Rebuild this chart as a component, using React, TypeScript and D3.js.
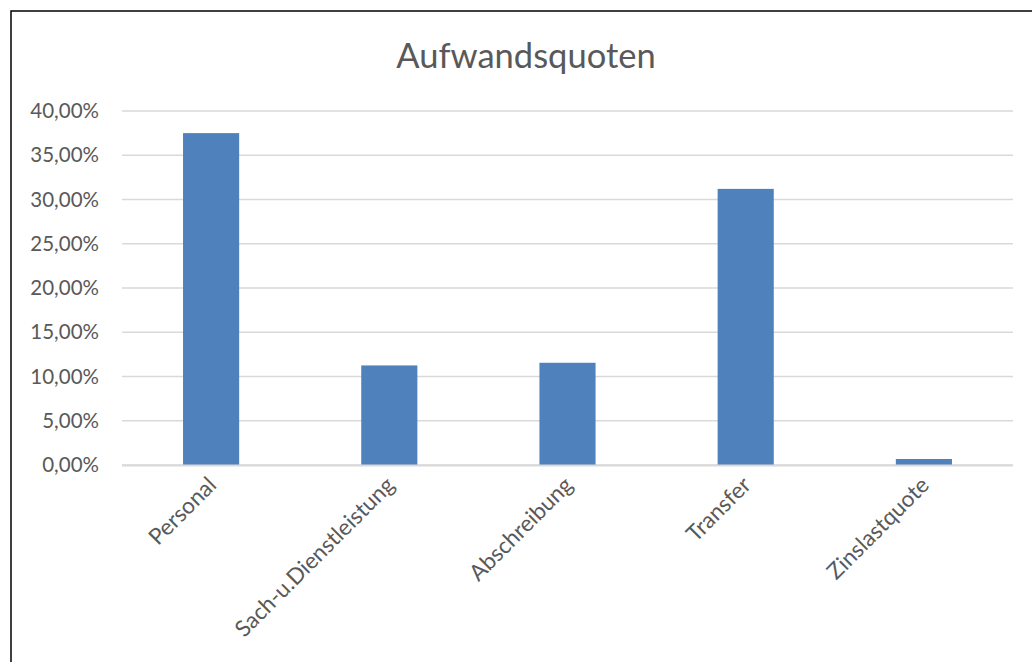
import React, {useEffect, useRef} from 'react'
import * as d3 from 'd3'

const categories = ['Personal', 'Sach-u.Dienstleistung', 'Abschreibung', 'Transfer', 'Zinslastquote']
const values = [0.375, 0.1125, 0.1155, 0.312, 0.0068]
const yTicks = [0, 0.05, 0.1, 0.15, 0.2, 0.25, 0.3, 0.35, 0.4]
const title = 'Aufwandsquoten'

const W = 1032
const H = 662
const FONT = 'Lato, "Open Sans", sans-serif'

export default function App() {
    const svgRef = useRef<SVGSVGElement>(null)

    useEffect(() => {
        const svg = d3.select(svgRef.current)
        svg.selectAll('*').remove()

        const plot = {left: 122, right: 1013, top: 111, bottom: 465}

        const x = d3.scaleBand<string>()
            .domain(categories)
            .range([plot.left, plot.right])
            .paddingInner(0.685)
            .paddingOuter(0.3425)
        const y = d3.scaleLinear().domain([0, 0.4]).range([plot.bottom, plot.top])

        svg.append('rect')
            .attr('x', 0).attr('y', 0).attr('width', W).attr('height', H)
            .attr('fill', '#fff')

        // outer chart frame (runs off the right and bottom edge)
        svg.append('rect')
            .attr('x', 11).attr('y', 11)
            .attr('width', W + 20).attr('height', H + 20)
            .attr('fill', 'none').attr('stroke', '#000').attr('stroke-width', 1.5)

        svg.append('text')
            .attr('x', 526).attr('y', 68)
            .attr('text-anchor', 'middle')
            .attr('font-family', FONT).attr('font-size', 34.5)
            .attr('fill', '#595959')
            .text(title)

        const fmt = (v: number) => (v * 100).toFixed(2).replace('.', ',') + '%'

        svg.append('g')
            .selectAll('line')
            .data(yTicks)
            .join('line')
            .attr('x1', plot.left).attr('x2', plot.right)
            .attr('y1', (d) => y(d)).attr('y2', (d) => y(d))
            .attr('stroke', '#d9d9d9').attr('stroke-width', 1.5)

        svg.append('g')
            .selectAll('text')
            .data(yTicks)
            .join('text')
            .attr('x', 99).attr('y', (d) => y(d))
            .attr('dy', '0.35em')
            .attr('text-anchor', 'end')
            .attr('font-family', FONT).attr('font-size', 20.5)
            .attr('fill', '#595959')
            .text(fmt)

        svg.append('g')
            .selectAll('rect')
            .data(values)
            .join('rect')
            .attr('x', (_, i) => x(categories[i])!)
            .attr('width', x.bandwidth())
            .attr('y', (d) => y(d))
            .attr('height', (d) => y(0) - y(d))
            .attr('fill', '#4f81bd')

        // baseline drawn over bars
        svg.append('line')
            .attr('x1', plot.left).attr('x2', plot.right)
            .attr('y1', y(0) + 0.5).attr('y2', y(0) + 0.5)
            .attr('stroke', '#d9d9d9').attr('stroke-width', 2)

        svg.append('g')
            .selectAll('text')
            .data(categories)
            .join('text')
            .attr('transform', (d) => `translate(${x(d)! + x.bandwidth() / 2 + 1},${plot.bottom + 16}) rotate(-45)`)
            .attr('text-anchor', 'end')
            .attr('dy', '0.35em')
            .attr('font-family', FONT).attr('font-size', 22.5)
            .attr('fill', '#595959')
            .text((d) => d)
    }, [])

    return (
        <svg ref={svgRef} width={W} height={H}
             style={{position: 'absolute', left: 0, top: 0, display: 'block'}}/>
    )
}
